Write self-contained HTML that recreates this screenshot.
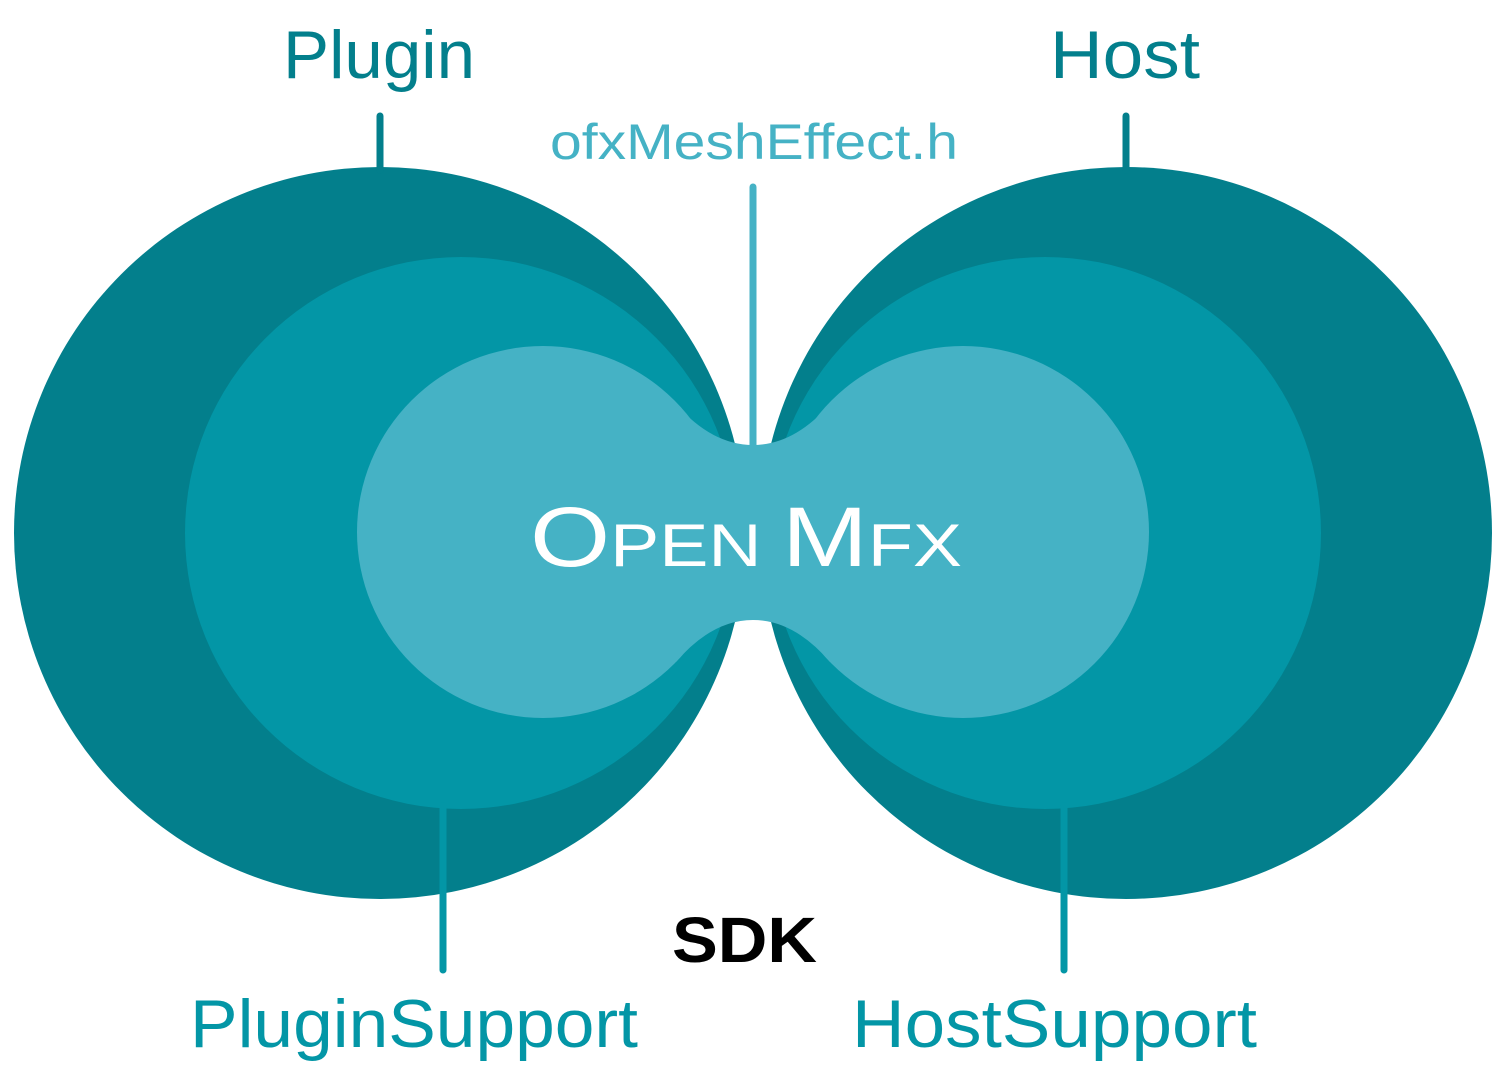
<!DOCTYPE html>
<html><head><style>body{margin:0;background:#fff}svg{display:block}</style></head>
<body>
<svg width="1506" height="1080" viewBox="0 0 1506 1080" xmlns="http://www.w3.org/2000/svg" font-family="Liberation Sans, sans-serif">
<rect width="1506" height="1080" fill="#fff"/>
<circle cx="380" cy="533" r="366" fill="#037f8c"/>
<circle cx="1126" cy="533" r="366" fill="#037f8c"/>
<circle cx="461" cy="533" r="276" fill="#0396a6"/>
<circle cx="1045" cy="533" r="276" fill="#0396a6"/>
<circle cx="543" cy="532" r="186" fill="#45b2c5"/>
<circle cx="963" cy="532" r="186" fill="#45b2c5"/>
<path d="M676 404 Q712 445 753 445 Q794 445 830 404 L830 662 Q794 620 753 620 Q712 620 676 662 Z" fill="#45b2c5"/>
<g stroke-width="7" stroke-linecap="round">
<line x1="380" y1="116" x2="380" y2="170" stroke="#037f8c"/>
<line x1="1126" y1="116" x2="1126" y2="170" stroke="#037f8c"/>
<line x1="753" y1="187" x2="753" y2="445" stroke="#45b2c5"/>
<line x1="443" y1="806" x2="443" y2="970" stroke="#0396a6"/>
<line x1="1064" y1="806" x2="1064" y2="970" stroke="#0396a6"/>
</g>
<g lengthAdjust="spacingAndGlyphs">
<text x="283" y="78" font-size="68" fill="#037f8c" textLength="192" lengthAdjust="spacingAndGlyphs">Plugin</text>
<text x="1050" y="78" font-size="68" fill="#037f8c" textLength="150" lengthAdjust="spacingAndGlyphs">Host</text>
<text x="550" y="159" font-size="50" fill="#45b2c5" textLength="408" lengthAdjust="spacingAndGlyphs">ofxMeshEffect.h</text>
<text x="190" y="1047" font-size="68" fill="#0396a6" textLength="448" lengthAdjust="spacingAndGlyphs">PluginSupport</text>
<text x="852" y="1047" font-size="68" fill="#0396a6" textLength="405" lengthAdjust="spacingAndGlyphs">HostSupport</text>
<text x="672" y="962" font-size="64" font-weight="bold" fill="#000" textLength="145" lengthAdjust="spacingAndGlyphs">SDK</text>
<text x="530" y="566" fill="#fff" font-size="60" textLength="432" lengthAdjust="spacingAndGlyphs"><tspan font-size="84">O</tspan>PEN <tspan font-size="84">M</tspan>FX</text>
</g>
</svg>
</body></html>
